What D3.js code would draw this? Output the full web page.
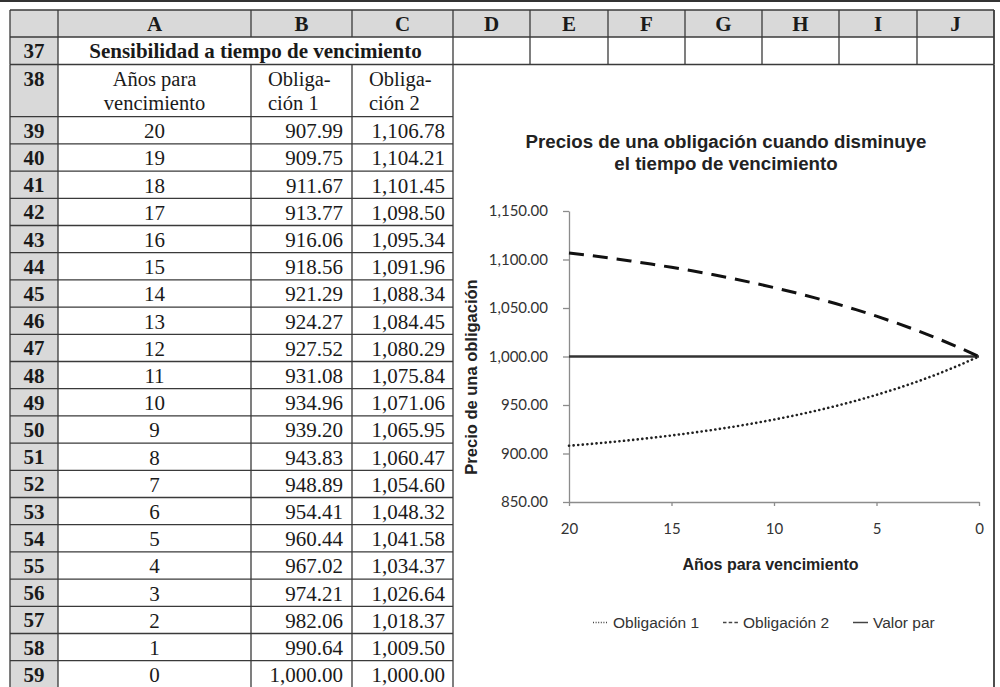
<!DOCTYPE html>
<html>
<head>
<meta charset="utf-8">
<script src="https://cdn.jsdelivr.net/npm/d3@7"></script>
<style>
  html, body { margin: 0; padding: 0; background: #fff; }
  svg { display: block; }
</style>
</head>
<body>
<svg id="sheet" width="1000" height="687"></svg>
<script>
// ---- Data ----
const columnLetters = ["A", "B", "C", "D", "E", "F", "G", "H", "I", "J"];
const rowNumbers = [37, 38, 39, 40, 41, 42, 43, 44, 45, 46, 47, 48, 49, 50, 51, 52, 53, 54, 55, 56, 57, 58, 59];
const sectionTitle = "Sensibilidad a tiempo de vencimiento";
const tableHeaders = [["Años para", "vencimiento"], ["Obliga-", "ción 1"], ["Obliga-", "ción 2"]];
const years = [20, 19, 18, 17, 16, 15, 14, 13, 12, 11, 10, 9, 8, 7, 6, 5, 4, 3, 2, 1, 0];
const bond1 = [907.99, 909.75, 911.67, 913.77, 916.06, 918.56, 921.29, 924.27, 927.52, 931.08, 934.96,
               939.20, 943.83, 948.89, 954.41, 960.44, 967.02, 974.21, 982.06, 990.64, 1000.00];
const bond2 = [1106.78, 1104.21, 1101.45, 1098.50, 1095.34, 1091.96, 1088.34, 1084.45, 1080.29, 1075.84, 1071.06,
               1065.95, 1060.47, 1054.60, 1048.32, 1041.58, 1034.37, 1026.64, 1018.37, 1009.50, 1000.00];
const parValue = [1000, 1000, 1000, 1000, 1000, 1000, 1000, 1000, 1000, 1000, 1000,
                  1000, 1000, 1000, 1000, 1000, 1000, 1000, 1000, 1000, 1000];
const yTicks = [850, 900, 950, 1000, 1050, 1100, 1150];
const xTicks = [20, 15, 10, 5, 0];
const seriesNames = ["Obligación 1", "Obligación 2", "Valor par"];
const chartTitle = ["Precios de una obligación cuando disminuye", "el tiempo de vencimiento"];
const xTitle = "Años para vencimiento";
const yTitle = "Precio de una obligación";

// ---- Sheet layout ----
const colEdges = [10, 58, 251, 352, 453, 530, 608, 685, 762, 839, 917, 994];
const headerTop = 10, headerBottom = 37, row37Bottom = 64.5, row38Bottom = 116.7, rowH = 27.2;
const rowTop = r => r === 37 ? headerBottom : r === 38 ? row37Bottom : row38Bottom + (r - 39) * rowH;
const rowBottom = r => r === 37 ? row37Bottom : r === 38 ? row38Bottom : rowTop(r) + rowH;
const lastBottom = rowBottom(59);

const svg = d3.select("#sheet");
const serif = "'Liberation Serif', 'Times New Roman', serif";
const sans = "'Liberation Sans', Arial, sans-serif";
const lineCol = "#3a3a3a";
const fillGray = "#d9d9d9";

// top rule
svg.append("line").attr("x1", 0).attr("x2", 1000).attr("y1", 1).attr("y2", 1)
  .attr("stroke", "#333").attr("stroke-width", 2);

// gray header band and row-number column
svg.append("rect").attr("x", colEdges[0]).attr("y", headerTop)
  .attr("width", colEdges[11] - colEdges[0]).attr("height", headerBottom - headerTop).attr("fill", fillGray);
svg.append("rect").attr("x", colEdges[0]).attr("y", headerBottom)
  .attr("width", colEdges[1] - colEdges[0]).attr("height", lastBottom - headerBottom).attr("fill", fillGray);

const grid = svg.append("g").attr("stroke", lineCol).attr("stroke-width", 1.3).attr("fill", "none");
// horizontal rules
[headerTop, headerBottom, row37Bottom].forEach(yv =>
  grid.append("line").attr("x1", colEdges[0]).attr("x2", colEdges[11]).attr("y1", yv).attr("y2", yv));
rowNumbers.filter(r => r >= 38).forEach(r =>
  grid.append("line").attr("x1", colEdges[0]).attr("x2", colEdges[4]).attr("y1", rowBottom(r)).attr("y2", rowBottom(r)));
// vertical rules: header row
colEdges.forEach(xv => grid.append("line").attr("x1", xv).attr("x2", xv).attr("y1", headerTop).attr("y2", headerBottom));
// row 37 (A:C merged)
colEdges.filter((xv, i) => i !== 2 && i !== 3).forEach(xv =>
  grid.append("line").attr("x1", xv).attr("x2", xv).attr("y1", headerBottom).attr("y2", row37Bottom));
// rows 38+ (chart area occupies D:J)
[0, 1, 2, 3, 4, 11].forEach(i =>
  grid.append("line").attr("x1", colEdges[i]).attr("x2", colEdges[i]).attr("y1", row37Bottom).attr("y2", lastBottom + 5));
grid.selectAll("line").filter((d, i, n) => +d3.select(n[i]).attr("x1") === colEdges[11])
  .attr("stroke-width", 1.8);

// column letters
svg.append("g").selectAll("text").data(columnLetters).join("text")
  .attr("x", (d, i) => (colEdges[i + 1] + colEdges[i + 2]) / 2)
  .attr("y", 31).attr("text-anchor", "middle")
  .attr("font-family", serif).attr("font-weight", "bold").attr("font-size", 21).attr("fill", "#1a1a1a")
  .text(d => d);

// row numbers
svg.append("g").selectAll("text").data(rowNumbers).join("text")
  .attr("x", (colEdges[0] + colEdges[1]) / 2)
  .attr("y", r => r === 38 ? rowTop(r) + 21 : rowTop(r) + 21)
  .attr("text-anchor", "middle")
  .attr("font-family", serif).attr("font-weight", "bold").attr("font-size", 21).attr("fill", "#1a1a1a")
  .text(d => d);

// section title (merged A37:C37)
svg.append("text").attr("x", (colEdges[1] + colEdges[4]) / 2).attr("y", rowTop(37) + 21)
  .attr("text-anchor", "middle").attr("font-family", serif).attr("font-weight", "bold")
  .attr("font-size", 21).attr("fill", "#1a1a1a").text(sectionTitle);

// column headers in row 38 (two wrapped lines each)
const hdr = svg.append("g").attr("font-family", serif).attr("font-size", 20.5).attr("fill", "#1a1a1a");
tableHeaders.forEach((lines, c) => {
  lines.forEach((t, k) => {
    const cx = c === 0 ? (colEdges[1] + colEdges[2]) / 2 : colEdges[c + 1] + 17;
    hdr.append("text").attr("x", cx).attr("y", rowTop(38) + 21 + k * 24)
      .attr("text-anchor", c === 0 ? "middle" : "start").text(t);
  });
});

// data rows
const fmt = d3.format(",.2f");
const body = svg.append("g").attr("font-family", serif).attr("font-size", 21).attr("fill", "#1a1a1a");
years.forEach((yr, i) => {
  const base = rowTop(39 + i) + 21.5;
  body.append("text").attr("x", (colEdges[1] + colEdges[2]) / 2).attr("y", base)
    .attr("text-anchor", "middle").text(yr);
  body.append("text").attr("x", colEdges[3] - 9).attr("y", base)
    .attr("text-anchor", "end").text(fmt(bond1[i]));
  body.append("text").attr("x", colEdges[4] - 8).attr("y", base)
    .attr("text-anchor", "end").text(fmt(bond2[i]));
});

// ---- Chart ----
const chart = svg.append("g");
const x = d3.scaleLinear().domain([20, 0]).range([569, 979]);
const y = d3.scaleLinear().domain([850, 1150]).range([502, 211]);
const axisCol = "#8c8c8c";

chart.append("text").attr("text-anchor", "middle").attr("font-family", sans).attr("font-weight", "bold")
  .attr("font-size", 18.7).attr("fill", "#222")
  .selectAll("tspan").data(chartTitle).join("tspan")
  .attr("x", 726).attr("y", (d, i) => 147.8 + i * 21.8).text(d => d);

const yAxis = chart.append("g").attr("transform", "translate(569,0)")
  .call(d3.axisLeft(y).tickValues(yTicks).tickSize(6).tickSizeOuter(0).tickPadding(15).tickFormat(fmt));
const xAxis = chart.append("g").attr("transform", "translate(0,502)")
  .call(d3.axisBottom(x).tickValues(xTicks).tickSize(4).tickSizeOuter(0).tickPadding(17));
[yAxis, xAxis].forEach(a => {
  a.select(".domain").attr("stroke", axisCol).attr("stroke-width", 1.3);
  a.selectAll(".tick line").attr("stroke", axisCol).attr("stroke-width", 1.3);
  a.selectAll(".tick text").attr("font-family", "Lato, 'Open Sans', sans-serif")
    .attr("font-size", 15).attr("fill", "#333");
});

const line = d3.line().x((d, i) => x(years[i])).y(d => y(d));
chart.append("path").datum(parValue).attr("d", line).attr("fill", "none")
  .attr("stroke", "#333").attr("stroke-width", 2.6);
chart.append("path").datum(bond2).attr("d", line).attr("fill", "none")
  .attr("stroke", "#111").attr("stroke-width", 3).attr("stroke-dasharray", "15,9");
chart.append("path").datum(bond1).attr("d", line).attr("fill", "none")
  .attr("stroke", "#222").attr("stroke-width", 2.6).attr("stroke-linecap", "round")
  .attr("stroke-dasharray", "0.1,4.5");

chart.append("text").attr("transform", "translate(477,377) rotate(-90)")
  .attr("text-anchor", "middle").attr("font-family", sans).attr("font-weight", "bold")
  .attr("font-size", 16.5).attr("fill", "#222").text(yTitle);
chart.append("text").attr("x", 770.5).attr("y", 570)
  .attr("text-anchor", "middle").attr("font-family", sans).attr("font-weight", "bold")
  .attr("font-size", 16).attr("fill", "#222").text(xTitle);

// legend
const legendStyles = [
  { dash: "1,1.6", width: 1.3 },
  { dash: "3.5,2.2", width: 1.3 },
  { dash: null, width: 1.5 }
];
const legendX = [593, 723, 853];
const leg = chart.append("g");
seriesNames.forEach((name, i) => {
  const g = leg.append("g").attr("transform", `translate(${legendX[i]},622.5)`);
  g.append("line").attr("x1", 0).attr("x2", 15).attr("y1", 0).attr("y2", 0)
    .attr("stroke", "#444").attr("stroke-width", legendStyles[i].width)
    .attr("stroke-dasharray", legendStyles[i].dash);
  g.append("text").attr("x", 20).attr("y", 5.5).attr("font-family", sans)
    .attr("font-size", 15.5).attr("fill", "#333").text(name);
});
</script>
</body>
</html>
